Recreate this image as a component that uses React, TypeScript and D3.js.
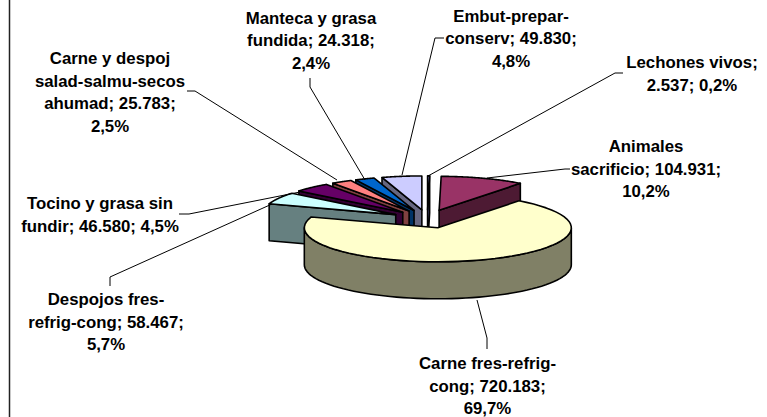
import React from "react";
import * as d3 from "d3";

const categories = ["Lechones vivos", "Animales sacrificio", "Carne fres-refrig-cong", "Despojos fres-refrig-cong", "Tocino y grasa sin fundir", "Carne y despoj salad-salmu-secos ahumad", "Manteca y grasa fundida", "Embut-prepar-conserv"];
const values = [2537, 104931, 720183, 58467, 46580, 25783, 24318, 49830];
const topColors = ["#9999FF", "#993366", "#FFFFCC", "#CCFFFF", "#660066", "#FF8080", "#0066CC", "#CCCCFF"];
const sideColors = ["#4D4D80", "#4D1A33", "#808066", "#668080", "#330033", "#804040", "#003366", "#666680"];
const drawOrder = [0, 7, 6, 5, 4, 3, 1, 2];

const labelLines = [
  { x: 692, y: 68, lines: ["Lechones vivos;", "2.537; 0,2%"] },
  { x: 646, y: 152, lines: ["Animales", "sacrificio; 104.931;", "10,2%"] },
  { x: 487.5, y: 369, lines: ["Carne fres-refrig-", "cong; 720.183;", "69,7%"] },
  { x: 106, y: 305, lines: ["Despojos fres-", "refrig-cong; 58.467;", "5,7%"] },
  { x: 100, y: 209, lines: ["Tocino y grasa sin", "fundir; 46.580; 4,5%"] },
  { x: 110, y: 64, lines: ["Carne y despoj", "salad-salmu-secos", "ahumad; 25.783;", "2,5%"] },
  { x: 311, y: 23.5, lines: ["Manteca y grasa", "fundida; 24.318;", "2,4%"] },
  { x: 511, y: 21.5, lines: ["Embut-prepar-", "conserv; 49.830;", "4,8%"] },
];
const leaders: [number, number][][] = [
  [[428, 176], [615, 73], [623, 73]],
  [[487, 178], [565, 169], [570, 169]],
  [[477, 300], [487, 338], [487, 349]],
  [[272, 204], [110, 277], [110, 286]],
  [[300, 192], [189, 214], [179, 214]],
  [[337, 180], [195, 91], [187, 91]],
  [[365, 180], [310, 87], [310, 78]],
  [[402, 175], [435, 38], [444, 38]],
];

const cx = 427.3, cy = 219, rx = 133.5, ry = 34, depth = 37, explode = 36;

export default function App() {
  const pie = d3.pie<number>().sort(null).startAngle(0).endAngle(2 * Math.PI);
  const arcs = pie(values);
  const line = d3.line();
  const pt = (c: [number, number], a: number, dz = 0): [number, number] => [c[0] + rx * Math.sin(a), c[1] - ry * Math.cos(a) + dz];
  const sweep = (c: [number, number], a0: number, a1: number, dz = 0) =>
    d3.range(0, 61).map((i) => pt(c, a0 + ((a1 - a0) * i) / 60, dz));
  const shapes = drawOrder.map((i) => {
    const { startAngle: a0, endAngle: a1 } = arcs[i];
    const mid = (a0 + a1) / 2;
    const c: [number, number] = [cx + explode * Math.sin(mid), cy - (explode * ry * Math.cos(mid)) / rx];
    const down = (p: [number, number]): [number, number] => [p[0], p[1] + depth];
    const faces: string[] = [];
    if (a0 > 1.5 * Math.PI) faces.push(line([c, pt(c, a0), down(pt(c, a0)), down(c)]) + "Z");
    if (a1 < Math.PI / 2) faces.push(line([c, pt(c, a1), down(pt(c, a1)), down(c)]) + "Z");
    const fa = Math.max(a0, Math.PI / 2), fb = Math.min(a1, 1.5 * Math.PI);
    if (fb > fa) faces.push(line([...sweep(c, fa, fb), ...sweep(c, fb, fa, depth)]) + "Z");
    const top = line([c, ...sweep(c, a0, a1)]) + "Z";
    return { i, faces, top };
  });
  return (
    <svg width={767} height={417} style={{ position: "absolute", left: 0, top: 0 }}>
      <rect width={767} height={417} fill="#fff" />
      <line x1={9.5} x2={9.5} y1={0} y2={417} stroke="#222" strokeWidth={1.5} />
      {shapes.map((s) => (
        <g key={s.i} stroke="#000" strokeWidth={1.6} strokeLinejoin="round">
          {s.faces.map((d, k) => <path key={k} d={d} fill={sideColors[s.i]} />)}
          <path d={s.top} fill={topColors[s.i]} />
        </g>
      ))}
      {leaders.map((l, i) => <path key={i} d={line(l) ?? ""} fill="none" stroke="#000" strokeWidth={1} />)}
      {labelLines.map((l, i) => (
        <text key={i} aria-label={categories[i]} fontFamily="'Liberation Sans', Arial, sans-serif" fontWeight="bold" fontSize={16.8} textAnchor="middle" fill="#000">
          {l.lines.map((t, k) => <tspan key={k} x={l.x} y={l.y + k * 22.5}>{t}</tspan>)}
        </text>
      ))}
    </svg>
  );
}
